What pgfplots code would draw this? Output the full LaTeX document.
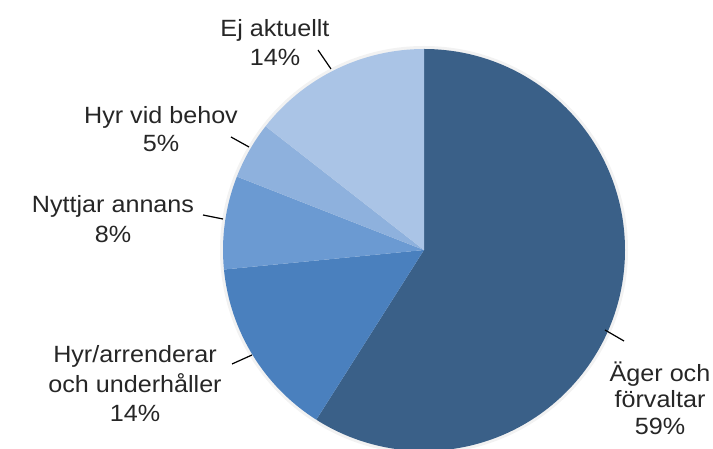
\documentclass[border=0pt]{standalone}
\usepackage{pgfplots}
\pgfplotsset{compat=1.18}
\usepackage{pgfplotstable}
\usepackage{fontspec}
\setmainfont{Liberation Sans}[FakeStretch=1.07]
\definecolor{cA}{HTML}{3A6088}
\definecolor{cB}{HTML}{4A80BE}
\definecolor{cC}{HTML}{6B9AD2}
\definecolor{cD}{HTML}{8EB1DD}
\definecolor{cE}{HTML}{AAC4E6}
% values (percent, as drawn), clockwise from 12 o'clock
\pgfplotstableread{
label value
Ager 59.0
Hyr 14.45
Nyttjar 7.5
Behov 4.6
Ej 14.45
}\piedata
\begin{document}
\begin{tikzpicture}
\begin{axis}[
  x=1pt, y=1pt, scale only axis,
  xmin=0, xmax=713, ymin=0, ymax=449,
  hide axis, clip=true,
]
\path (axis cs:0,0) rectangle (axis cs:713,449);
% soft halo
\fill[gray!10] (axis cs:424,199) circle[radius=204pt];
% pie centre (424,199), radius 201; angle = 90 - 3.6*cumulative percent
\fill[cA] (axis cs:424,199) -- ++(90:201pt) arc[start angle=90, end angle=-122.4, radius=201pt] -- cycle;        % 59.0
\fill[cB] (axis cs:424,199) -- ++(-122.4:201pt) arc[start angle=-122.4, end angle=-174.42, radius=201pt] -- cycle; % 14.45
\fill[cC] (axis cs:424,199) -- ++(-174.42:201pt) arc[start angle=-174.42, end angle=-201.42, radius=201pt] -- cycle; % 7.5
\fill[cD] (axis cs:424,199) -- ++(-201.42:201pt) arc[start angle=-201.42, end angle=-217.98, radius=201pt] -- cycle; % 4.6
\fill[cE] (axis cs:424,199) -- ++(-217.98:201pt) arc[start angle=-217.98, end angle=-270, radius=201pt] -- cycle;   % 14.45
% leader lines
\draw[black, line width=1.2pt] (axis cs:318,399) -- (axis cs:331,380);
\draw[black, line width=1.2pt] (axis cs:231,312) -- (axis cs:249,302);
\draw[black, line width=1.2pt] (axis cs:203,234) -- (axis cs:223,230);
\draw[black, line width=1.2pt] (axis cs:232,85) -- (axis cs:252,94);
\draw[black, line width=1.2pt] (axis cs:605,119) -- (axis cs:624,108);
% labels
\begin{scope}[every node/.style={anchor=base, inner sep=0pt, text=black!85, font=\fontsize{23.5}{28}\selectfont}]
\node at (axis cs:275,412) {Ej aktuellt};
\node at (axis cs:275,383) {14\%};
\node at (axis cs:161,325) {Hyr vid behov};
\node at (axis cs:161,297) {5\%};
\node at (axis cs:113,236) {Nyttjar annans};
\node at (axis cs:113,206) {8\%};
\node at (axis cs:135,86) {Hyr/arrenderar};
\node at (axis cs:135,56) {och underhåller};
\node at (axis cs:135,27) {14\%};
\node at (axis cs:660,67) {Äger och};
\node at (axis cs:660,41) {förvaltar};
\node at (axis cs:660,14) {59\%};
\end{scope}
\end{axis}
\end{tikzpicture}
\end{document}
